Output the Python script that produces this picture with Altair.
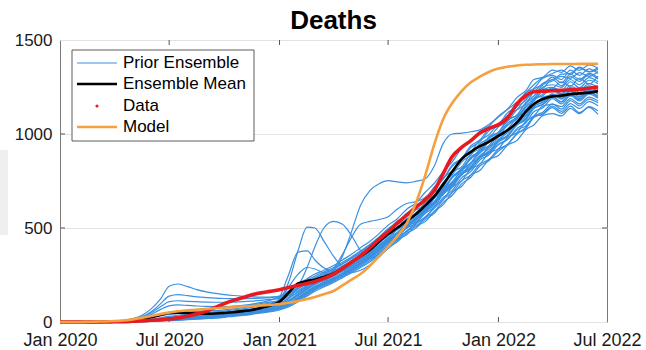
import altair as alt
import pandas as pd

FONT = "Liberation Sans"
BLUE = "#3a90e0"
RED = "#e8191f"
ORANGE = "#f5a040"

# half-month sampling dates, Jan 1 2020 .. Jun 16 2022
DATES = [f"{2020 + i // 24}-{(i // 2) % 12 + 1:02d}-{1 if i % 2 == 0 else 16:02d}T00:00:00" for i in range(60)]

TICK_DATES = ["2020-01-01T00:00:00", "2020-07-01T00:00:00", "2021-01-01T00:00:00",
              "2021-07-01T00:00:00", "2022-01-01T00:00:00", "2022-07-01T00:00:00"]
Y_TICKS = [0, 500, 1000, 1500]

# ---- ensemble members (Prior Ensemble) ----
M01 = [0,0,0,0,0,1,3,6,12,20,30,40, 50,58,62,65,68,72,76,82,88,95,104,115,
       135,165,200,230,255,275,300,330,360,395,430,470, 515,548,600,632,690,738,800,852,925,958,1015,1042,
       1095,1132,1195,1232,1290,1302,1340,1328,1362,1338,1368,1350]
M02 = [0,0,0,0,0,1,2,5,10,16,24,32, 40,44,46,48,50,54,58,64,70,78,86,96,
       110,140,180,210,235,258,282,310,340,372,410,450, 490,536,566,618,652,718,762,836,872,938,968,1028,
       1052,1112,1152,1220,1242,1296,1312,1290,1340,1312,1346,1322]
M03 = [0,0,0,0,0,0,1,3,6,10,15,22, 30,36,40,42,45,48,52,58,64,70,78,88,
       100,125,160,192,218,240,262,290,318,350,388,425, 470,500,550,580,636,674,742,782,852,888,948,978,
       1038,1068,1128,1162,1222,1242,1290,1256,1306,1280,1316,1292]
M04 = [0,0,0,0,0,0,1,2,5,8,12,18, 25,30,34,36,38,42,46,52,58,64,72,80,
       92,115,150,182,208,230,252,278,305,336,372,410, 444,494,522,572,604,668,706,772,812,878,908,968,
       998,1058,1088,1152,1184,1236,1248,1230,1278,1246,1286,1268]
M05 = [0,0,0,0,0,0,1,2,4,7,10,15, 20,25,28,30,33,36,40,45,52,58,66,75,
       86,108,140,172,198,220,244,270,296,326,360,398, 440,470,522,546,602,638,706,744,812,848,908,938,
       998,1026,1088,1120,1182,1204,1246,1216,1258,1232,1268,1248]
M06 = [0,0,0,0,0,0,0,1,3,5,8,12, 16,20,23,26,29,32,36,41,47,54,62,70,
       80,100,132,164,190,212,236,262,288,318,352,390, 424,472,498,548,578,640,678,746,782,846,874,932,
       960,1020,1050,1112,1142,1196,1206,1192,1236,1206,1246,1226]
M07 = [0,0,0,0,0,0,0,1,2,4,6,9, 12,16,19,22,25,28,32,37,43,50,58,66,
       76,95,126,156,182,205,228,254,280,310,344,380, 422,450,500,524,578,612,680,718,784,814,874,900,
       958,986,1048,1076,1138,1160,1202,1172,1214,1188,1224,1202]
M08 = [0,0,0,0,0,0,0,1,2,3,5,7, 10,13,16,19,22,25,29,34,40,46,54,62,
       72,90,120,150,176,198,222,248,274,302,336,372, 406,454,480,528,554,612,650,718,752,814,840,898,
       922,980,1008,1068,1096,1148,1158,1146,1188,1160,1196,1176]
M09 = [0,0,0,0,0,0,0,0,1,2,4,6, 8,11,14,17,20,23,27,32,38,44,51,58,
       68,85,114,144,170,192,216,242,268,296,328,364, 406,434,484,506,556,586,652,688,752,782,840,864,
       920,944,1002,1030,1088,1108,1148,1120,1162,1136,1172,1150]
M10 = [0,0,0,0,0,0,0,0,1,2,3,5, 7,9,12,15,18,21,25,30,35,41,48,55,
       64,80,108,138,164,186,210,236,262,290,320,356, 390,438,464,512,534,590,624,690,722,782,806,864,
       886,940,966,1024,1048,1098,1108,1096,1136,1108,1146,1124]
M11 = [0,0,0,0,0,0,0,1,2,4,6,8, 11,14,17,20,23,27,31,36,42,48,56,64,
       74,92,122,152,178,200,224,250,278,308,342,380, 416,468,500,556,588,656,696,768,808,876,910,976,
       1008,1070,1102,1168,1202,1262,1282,1318,1322,1356,1332,1352]
M12 = [0,0,0,0,0,1,3,6,11,18,27,36, 44,50,54,56,58,61,65,70,76,83,91,100,
       114,142,176,205,228,250,272,298,325,355,388,422, 462,490,536,556,606,636,696,732,790,820,872,898,
       946,972,1022,1044,1092,1104,1140,1110,1148,1114,1142,1104]
M13 = [0,0,0,0,0,0,1,2,4,7,11,16, 22,27,30,33,36,40,44,49,55,62,70,78,
       90,112,145,176,202,224,247,273,300,331,366,404, 440,490,518,568,598,660,700,768,806,870,898,958,
       988,1048,1080,1144,1174,1228,1242,1278,1254,1298,1266,1308]
M14 = [0,0,0,0,0,0,0,1,3,5,8,11, 15,19,22,25,28,31,35,40,46,53,61,69,
       79,98,130,160,186,208,232,258,284,314,348,386, 430,456,508,532,586,622,686,726,788,822,878,908,
       962,994,1052,1086,1146,1168,1210,1214,1202,1242,1218,1252]
M15 = [0,0,0,0,0,1,3,8,18,35,70,120, 190,202,188,172,160,152,146,141,137,134,132,132,
       138,160,195,222,245,266,290,318,346,378,414,452, 496,528,578,604,662,698,766,804,872,906,966,996,
       1054,1086,1146,1180,1238,1262,1302,1272,1318,1290,1322,1300]
M16 = [0,0,0,0,0,1,2,6,14,28,55,95, 138,146,140,134,130,127,125,124,124,125,127,130,
       136,152,185,212,236,258,282,308,336,366,400,438, 472,518,544,596,622,690,720,796,826,896,922,986,
       1010,1076,1100,1166,1190,1250,1262,1248,1290,1262,1300,1278]
M17 = [0,0,0,0,0,0,2,5,12,25,48,80, 108,113,110,108,106,105,105,106,108,111,115,120,
       126,140,168,196,220,242,266,292,320,350,384,420, 458,500,532,572,610,664,712,770,818,866,916,958,
       1004,1044,1094,1134,1180,1212,1236,1208,1248,1222,1256,1236]
M18 = [0,0,0,0,0,0,1,4,10,20,40,66, 86,91,88,85,83,82,82,84,87,92,98,106,
       114,130,158,186,210,232,256,282,308,338,372,408, 450,476,524,548,600,640,700,744,806,842,900,930,
       984,1014,1070,1102,1156,1178,1214,1188,1228,1196,1234,1212]
M19 = [0,0,0,0,0,0,1,2,4,7,11,16, 20,24,27,30,33,37,41,46,52,59,67,76,
       118,210,380,505,500,430,350,290,262,275,305,345, 392,426,472,498,546,578,636,674,736,770,830,858,
       910,944,1000,1036,1092,1116,1160,1132,1178,1150,1186,1166]
M20 = [0,0,0,0,0,0,0,1,3,5,8,12, 16,20,23,26,29,32,36,41,47,54,62,70,
       90,125,190,290,400,500,535,520,460,380,340,362, 404,442,484,520,560,604,662,700,768,800,862,888,
       942,970,1030,1060,1118,1140,1188,1160,1204,1176,1212,1190]
M21 = [0,0,0,0,0,0,1,2,5,8,12,17, 22,26,29,32,35,38,42,47,53,60,68,77,
       88,110,145,178,205,228,268,350,480,620,700,735, 752,745,740,748,762,830,950,1000,1005,1012,1022,1050,
       1090,1130,1170,1220,1262,1300,1322,1340,1316,1352,1330,1344]
M22 = [0,0,0,0,0,0,0,1,2,4,7,10, 14,18,21,24,27,30,34,39,45,52,60,68,
       130,250,372,378,330,288,268,275,296,324,358,394, 432,470,510,546,590,634,690,734,794,830,886,920,
       972,1006,1060,1094,1150,1170,1212,1186,1226,1198,1234,1214]
M23 = [0,0,0,0,0,0,0,1,2,3,5,8, 11,14,17,20,23,26,30,35,41,47,55,63,
       115,185,255,290,282,262,258,272,296,326,360,396, 436,468,512,540,592,628,688,724,790,818,880,906,
       962,990,1050,1080,1136,1156,1196,1170,1212,1182,1220,1196]
M24 = [0,0,0,0,0,0,0,1,2,4,6,9, 12,16,19,22,25,28,32,37,43,50,58,66,
       76,95,126,156,182,206,280,360,450,520,535,545, 560,600,630,640,662,712,760,828,866,928,958,1016,
       1048,1098,1130,1188,1222,1270,1290,1306,1296,1326,1306,1332]

MEMBERS = [M01, M02, M03, M04, M05, M06, M07, M08, M09, M10, M11, M12,
           M13, M14, M15, M16, M17, M18, M19, M20, M21, M22, M23, M24]

ENSEMBLE_MEAN = [0,0,0,0,0,1,2,4,8,15,25,37, 48,50,48,45,44,45,48,52,58,64,75,88,
                 108,155,205,218,225,240,258,285,320,350,384,428, 468,500,538,572,620,668,732,800,868,905,935,958,
                 990,1020,1062,1120,1160,1186,1200,1204,1212,1216,1220,1228]
DATA = [0,0,0,0,0,0,1,2,4,6,9,12, 16,22,30,42,58,78,98,115,130,145,155,163,
        172,183,195,205,215,232,255,285,318,352,395,440, 480,525,568,610,650,700,790,880,930,965,1005,1030,
        1050,1085,1160,1205,1225,1228,1230,1232,1235,1238,1243,1250]
MODEL = [0,0,0,1,2,3,5,8,14,22,32,42, 50,57,62,66,70,73,76,79,82,85,88,91,
         95,102,112,122,133,148,165,195,225,255,300,350, 400,455,525,630,780,945,1080,1165,1230,1275,1305,1330,
         1348,1358,1364,1368,1370,1371,1372,1372,1372,1373,1373,1373]

TITLE = "Deaths"
W, H = 547, 282

ens_rows = []
for k, m in enumerate(MEMBERS):
    for d, v in zip(DATES, m):
        ens_rows.append({"date": d, "value": v, "member": k})
ens_df = pd.DataFrame(ens_rows)
mean_df = pd.DataFrame({"date": DATES, "value": ENSEMBLE_MEAN})
data_df = pd.DataFrame({"date": DATES, "value": DATA})
model_df = pd.DataFrame({"date": DATES, "value": MODEL})

x_scale = alt.Scale(domain=[alt.DateTime(year=2020, month=1, date=1),
                            alt.DateTime(year=2022, month=7, date=1)])
y_scale = alt.Scale(domain=[0, 1500], nice=False)

x_axis = alt.Axis(values=[alt.DateTime(year=int(s[:4]), month=int(s[5:7]), date=1) for s in TICK_DATES],
                  format="%b %Y", title=None, grid=False, domain=False, tickSize=0,
                  labelFontSize=18, labelFont=FONT, labelColor="#1a1a1a", labelPadding=9.5,
                  labelFlush=False, labelOverlap=False)
y_axis = alt.Axis(values=Y_TICKS, format="d", title=None, grid=True, gridColor="#e3e3e3", domain=False,
                  tickSize=0, labelFontSize=17, labelFont=FONT, labelColor="#1a1a1a", labelPadding=8)

X = alt.X("date:T", scale=x_scale, axis=x_axis)
Y = alt.Y("value:Q", scale=y_scale, axis=y_axis)

one = pd.DataFrame({"a": [0]})

bg_rect = alt.Chart(one).mark_rect(color="#efefef").encode(
    x=alt.value(-60), x2=alt.value(-52), y=alt.value(110), y2=alt.value(195))

ens = alt.Chart(ens_df).mark_line(color=BLUE, strokeWidth=1.2, interpolate="monotone").encode(
    x=X, y=Y, detail="member:N")
mean_line = alt.Chart(mean_df).mark_line(color="black", strokeWidth=2.6, interpolate="monotone").encode(x=X, y=Y)
data_line = alt.Chart(data_df).mark_line(color=RED, strokeWidth=3.6, interpolate="monotone").encode(x=X, y=Y)
model_line = alt.Chart(model_df).mark_line(color=ORANGE, strokeWidth=2.6, interpolate="monotone").encode(x=X, y=Y)

xt_df = pd.DataFrame({"date": TICK_DATES[1:-1]})
yt_df = pd.DataFrame({"value": [500, 1000]})
xt_bot = alt.Chart(xt_df).mark_rule(color="#555", strokeWidth=1).encode(
    x=X, y=alt.value(H), y2=alt.value(H - 5))
xt_top = alt.Chart(xt_df).mark_rule(color="#555", strokeWidth=1).encode(
    x=X, y=alt.value(0), y2=alt.value(5))
yt_left = alt.Chart(yt_df).mark_rule(color="#555", strokeWidth=1).encode(
    y=Y, x=alt.value(0), x2=alt.value(5))
yt_right = alt.Chart(yt_df).mark_rule(color="#555", strokeWidth=1).encode(
    y=Y, x=alt.value(W), x2=alt.value(W - 5))

title_mark = alt.Chart(one).mark_text(align="center", baseline="alphabetic", fontSize=26,
                                      fontWeight="bold", font=FONT, color="black").encode(
    x=alt.value(W / 2), y=alt.value(-11), text=alt.value(TITLE))

# ---- legend ----
LEG_LABELS = ["Prior Ensemble", "Ensemble Mean", "Data", "Model"]
leg_box = alt.Chart(one).mark_rect(fill="white", stroke="#333", strokeWidth=0.8).encode(
    x=alt.value(12), x2=alt.value(194), y=alt.value(10), y2=alt.value(101))
rows_y = [23, 44, 66, 87]
leg_layers = [leg_box]
leg_layers.append(alt.Chart(one).mark_rule(color=BLUE, strokeWidth=1.2).encode(
    x=alt.value(17), x2=alt.value(57), y=alt.value(rows_y[0])))
leg_layers.append(alt.Chart(one).mark_rule(color="black", strokeWidth=2.6).encode(
    x=alt.value(17), x2=alt.value(57), y=alt.value(rows_y[1])))
leg_layers.append(alt.Chart(one).mark_point(color=RED, filled=True, size=10, opacity=1).encode(
    x=alt.value(37), y=alt.value(rows_y[2])))
leg_layers.append(alt.Chart(one).mark_rule(color=ORANGE, strokeWidth=2.6).encode(
    x=alt.value(17), x2=alt.value(57), y=alt.value(rows_y[3])))
for lab, yy in zip(LEG_LABELS, rows_y):
    leg_layers.append(alt.Chart(one).mark_text(align="left", baseline="middle", fontSize=17,
                                               font=FONT, color="black").encode(
        x=alt.value(63), y=alt.value(yy), text=alt.value(lab)))

chart = alt.layer(
    bg_rect, ens, mean_line, data_line, model_line,
    xt_bot, xt_top, yt_left, yt_right, title_mark, *leg_layers
).properties(
    width=W, height=H,
    autosize=alt.AutoSizeParams(type="none"),
    padding={"left": 60, "top": 40, "right": 39, "bottom": 28},
    background="white",
).configure_view(stroke="#7a7a7a", strokeWidth=1)

chart.save("out.html", embed_options={"renderer": "svg", "actions": False})
